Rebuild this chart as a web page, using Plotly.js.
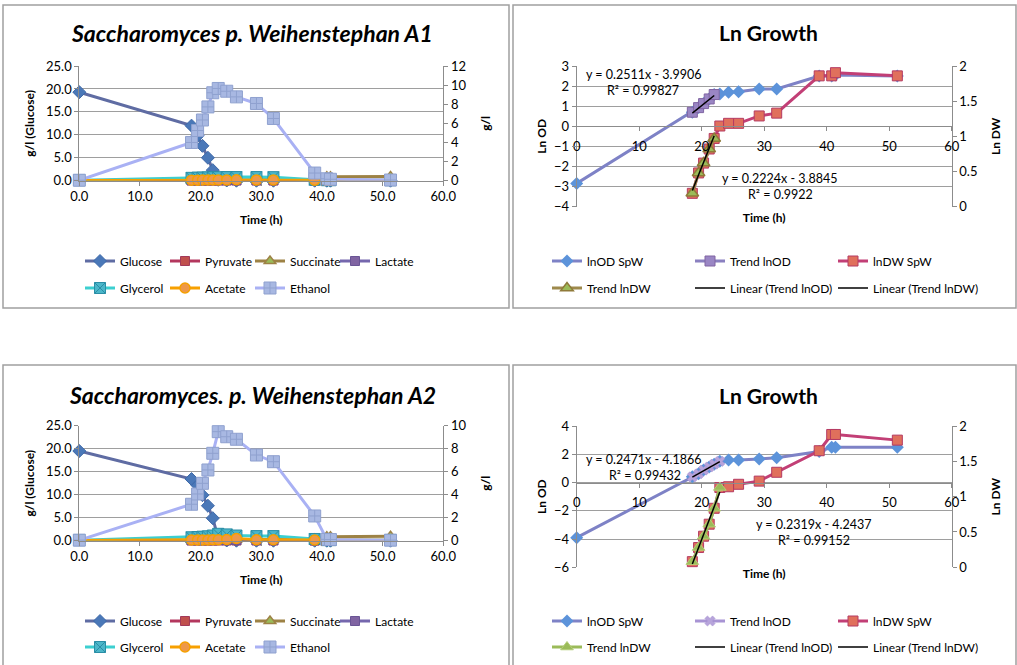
<!DOCTYPE html>
<html><head><meta charset="utf-8">
<script src="https://cdn.plot.ly/plotly-3.0.1.min.js"></script>
<style>html,body{margin:0;padding:0;background:#fff;}#chart{width:1017px;height:665px;}</style>
</head><body><div id="chart"></div>
<script>
// ---------- DATA : experiment A1 ----------
const timeA1      = [0, 18.5, 19.5, 20.3, 21.2, 22.0, 22.9, 24.3, 25.9, 29.2, 32.0, 38.8, 40.8, 41.4, 51.3];
const glucoseA1   = [19.3, 12.0, 9.8, 7.6, 5.0, 2.3, 0.2, 0.05, 0, 0, 0, 0, 0, 0, 0];
const pyruvateA1  = [0, 0.02, 0.02, 0.02, 0.02, 0.02, 0.02, 0.02, 0.02, 0.02, 0.02, 0.01, 0.01, 0.01, 0.01];
const succinateA1 = [0, 0.06, 0.06, 0.07, 0.07, 0.08, 0.08, 0.08, 0.09, 0.09, 0.1, 0.15, 0.42, 0.42, 0.45];
const lactateA1   = [0, 0.04, 0.04, 0.04, 0.04, 0.05, 0.05, 0.05, 0.05, 0.05, 0.05, 0.03, 0.02, 0.02, 0.02];
const glycerolA1  = [0.05, 0.3, 0.32, 0.33, 0.35, 0.36, 0.37, 0.38, 0.38, 0.38, 0.37, 0.1, 0.05, 0.05, 0.05];
const acetateA1   = [0.02, 0.06, 0.06, 0.07, 0.07, 0.08, 0.08, 0.08, 0.1, 0.08, 0.08, 0.05, 0.04, 0.04, 0.04];
const ethanolA1   = [0.05, 4.0, 5.25, 6.35, 7.72, 9.2, 9.65, 9.36, 8.77, 8.08, 6.51, 0.8, 0.2, 0.15, 0.07];

const lnODA1      = [-2.84, 0.70, 0.93, 1.13, 1.36, 1.58, 1.61, 1.69, 1.72, 1.86, 1.86, 2.50, 2.50, 2.55, 2.50];
const trendTimeA1 = [18.5, 19.5, 20.3, 21.2, 22.0];
const trendODA1   = [0.70, 0.93, 1.13, 1.36, 1.58];
const dwTimeA1    = [18.5, 19.5, 20.3, 21.2, 22.0, 22.9, 24.3, 25.9, 29.2, 32.0, 38.8, 40.8, 41.4, 51.3];
const lnDWA1      = [0.19, 0.48, 0.62, 0.82, 0.97, 1.147, 1.185, 1.185, 1.29, 1.33, 1.86, 1.86, 1.905, 1.86];
const trendDWA1   = [0.19, 0.48, 0.62, 0.82, 0.97];
const fitODA1     = [0.2511, -3.9906];   // slope, intercept
const fitDWA1     = [0.2224, -3.8845];
const fitRangeA1  = [18.5, 22.0];
const eqODA1 = ['y = 0.2511x - 3.9906', 'R² = 0.99827'];
const eqDWA1 = ['y = 0.2224x - 3.8845', 'R² = 0.9922'];

// ---------- DATA : experiment A2 ----------
const timeA2      = [0, 18.5, 19.5, 20.3, 21.2, 22.0, 22.9, 24.3, 25.9, 29.2, 32.0, 38.8, 40.8, 41.4, 51.3];
const glucoseA2   = [19.5, 13.4, 12.0, 9.9, 7.6, 4.9, 0.5, 0.05, 0, 0, 0, 0, 0, 0, 0];
const pyruvateA2  = [0, 0.02, 0.02, 0.02, 0.02, 0.02, 0.02, 0.02, 0.02, 0.02, 0.02, 0.01, 0.01, 0.01, 0.01];
const succinateA2 = [0, 0.06, 0.06, 0.07, 0.07, 0.08, 0.08, 0.08, 0.09, 0.09, 0.1, 0.15, 0.35, 0.35, 0.38];
const lactateA2   = [0, 0.04, 0.04, 0.04, 0.04, 0.05, 0.05, 0.05, 0.05, 0.05, 0.05, 0.03, 0.02, 0.02, 0.02];
const glycerolA2  = [0.05, 0.3, 0.32, 0.35, 0.38, 0.45, 0.6, 0.55, 0.45, 0.4, 0.4, 0.15, 0.05, 0.05, 0.05];
const acetateA2   = [0.02, 0.06, 0.06, 0.07, 0.07, 0.08, 0.08, 0.1, 0.2, 0.08, 0.08, 0.06, 0.04, 0.04, 0.04];
const ethanolA2   = [0.05, 3.17, 4.06, 4.99, 6.15, 7.6, 9.48, 9.04, 8.82, 7.45, 6.87, 2.15, 0.12, 0.1, 0.05];

const lnODA2      = [-3.9, 0.40, 0.62, 0.88, 1.10, 1.30, 1.50, 1.60, 1.60, 1.67, 1.76, 2.2, 2.49, 2.49, 2.49];
const trendTimeA2 = [18.5, 19.5, 20.3, 21.2, 22.0, 22.9];
const trendODA2   = [0.40, 0.62, 0.88, 1.10, 1.30, 1.50];
const dwTimeA2    = [18.5, 19.5, 20.3, 21.2, 22.0, 22.9, 24.3, 25.9, 29.2, 32.0, 38.8, 40.8, 41.4, 51.3];
const lnDWA2      = [0.08, 0.28, 0.44, 0.61, 0.835, 1.13, 1.14, 1.175, 1.22, 1.345, 1.65, 1.88, 1.88, 1.80];
const trendDWA2   = [0.08, 0.28, 0.44, 0.61, 0.835, 1.13];
const fitODA2     = [0.2471, -4.1866];
const fitDWA2     = [0.2319, -4.2437];
const fitRangeA2  = [18.5, 22.9];
const eqODA2 = ['y = 0.2471x - 4.1866', 'R² = 0.99432'];
const eqDWA2 = ['y = 0.2319x - 4.2437', 'R² = 0.99152'];

const titles = ['Saccharomyces p. Weihenstephan A1', 'Ln Growth', 'Saccharomyces. p. Weihenstephan A2', 'Ln Growth'];

// ---------- helpers ----------
const W = 1017, H = 665;
const FONT = 'Lato, "Open Sans", sans-serif';
const gridC = '#9E9E9E', axC = '#8C8C8C';
const X = p => p / W, Y = p => 1 - p / H;
const dX = (a, b) => [a / W, b / W];
const dY = (t, b) => [1 - b / H, 1 - t / H];
const fitLine = (fit, rng) => rng.map(x => fit[0] * x + fit[1]);

function tr(name, x, y, xa, ya, leg, lineColor, marker, mode) {
  return {type: 'scatter', mode: mode || 'lines+markers', name, x, y, xaxis: xa, yaxis: ya,
    legend: leg, line: {color: lineColor, width: 3}, marker, cliponaxis: false};
}
const mk = (symbol, size, color, lc, lw) => ({symbol, size, color, line: {color: lc, width: lw === undefined ? 1 : lw}});

function metabTraces(xa, ya, ya2, l1, l2, t, g, pyr, suc, lac, gly, ace, eth) {
  return [
    tr('Glucose', t, g, xa, ya, l1, '#5F6CA3', mk('diamond', 10, '#4A78B8', '#3D68A8')),
    tr('Pyruvate', t, pyr, xa, ya2, l1, '#B4375E', mk('square', 9, '#C0504D', '#A33A5A')),
    tr('Succinate', t, suc, xa, ya2, l1, '#9D8245', mk('triangle-up', 10, '#9BBB59', '#9D8245', 1.5)),
    tr('Lactate', t, lac, xa, ya2, l1, '#7567AD', mk('square', 9, '#8064A2', '#6A5595')),
    tr('Glycerol', t, gly, xa, ya2, l2, '#3CCFD0', mk('square-x', 11, '#4BB6C9', '#2A8EA6')),
    tr('Acetate', t, ace, xa, ya2, l2, '#F7A000', mk('circle', 10, '#EE9848', '#F5A000', 1.5)),
    tr('Ethanol', t, eth, xa, ya2, l2, '#A9B1F4', mk('square-cross', 12, '#A8B8E2', '#8FA1CF'))
  ];
}
function growthTraces(xa, ya, ya2, l1, l2, t, od, tt, tod, dwt, dw, tdw, fod, fdw, rng, second) {
  return [
    tr('lnOD SpW', t, od, xa, ya, l1, '#7E82C6', mk('diamond', 10, '#5C93DA', '#5C93DA', 0)),
    second ? tr('Trend lnOD', tt, tod, xa, ya, l1, '#A894D4', mk('x', 9, '#B7A4DB', '#9E89CC', 0.5))
           : tr('Trend lnOD', tt, tod, xa, ya, l1, '#8A80C0', mk('square', 10, '#9A86C4', '#8064A2')),
    tr('lnDW SpW', dwt, dw, xa, ya2, l1, '#C23F76', mk('square', 10, '#E0705C', '#B53A62')),
    second ? tr('Trend lnDW', tt, tdw, xa, ya2, l2, '#9BBB59', mk('triangle-up', 11, '#9BBB59', '#B5CE78', 1))
           : tr('Trend lnDW', tt, tdw, xa, ya2, l2, '#9E8A4C', mk('triangle-up', 11, '#9BBB59', '#8F7A3A', 1.5)),
    {type: 'scatter', mode: 'lines', name: 'Linear (Trend lnOD)', x: rng, y: fitLine(fod, rng), xaxis: xa, yaxis: ya,
      legend: l2, line: {color: '#000', width: 1.5}},
    {type: 'scatter', mode: 'lines', name: 'Linear (Trend lnDW)', x: rng, y: fitLine(fdw, rng), xaxis: xa, yaxis: ya2,
      legend: l2, legendwidth: 130, line: {color: '#000', width: 1.5}}
  ];
}

const data = [].concat(
  metabTraces('x', 'y', 'y2', 'legend', 'legend2', timeA1, glucoseA1, pyruvateA1, succinateA1, lactateA1, glycerolA1, acetateA1, ethanolA1),
  growthTraces('x2', 'y3', 'y4', 'legend3', 'legend4', timeA1, lnODA1, trendTimeA1, trendODA1, dwTimeA1, lnDWA1, trendDWA1, fitODA1, fitDWA1, fitRangeA1, false),
  metabTraces('x3', 'y5', 'y6', 'legend5', 'legend6', timeA2, glucoseA2, pyruvateA2, succinateA2, lactateA2, glycerolA2, acetateA2, ethanolA2),
  growthTraces('x4', 'y7', 'y8', 'legend7', 'legend8', timeA2, lnODA2, trendTimeA2, trendODA2, dwTimeA2, lnDWA2, trendDWA2, fitODA2, fitDWA2, fitRangeA2, true)
);

// ---------- axes ----------
const tickF = {family: FONT, size: 13, color: '#000'};
const titF = {family: FONT, size: 12, color: '#000', weight: 'bold'};
function xAxis(dom, extra) {
  return Object.assign({domain: dom, range: [0, 60], dtick: 10, showgrid: false, zeroline: false,
    showline: true, linecolor: axC, linewidth: 1, ticks: 'outside', ticklen: 4, tickcolor: axC,
    tickfont: tickF, fixedrange: true}, extra);
}
function yAxis(dom, anchor, range, dtick, title, standoff, extra) {
  return Object.assign({domain: dom, anchor, range, dtick, showgrid: true, gridcolor: gridC, gridwidth: 1,
    zeroline: false, showline: true, linecolor: axC, ticks: 'outside', ticklen: 4, tickcolor: axC,
    tickfont: tickF, title: {text: title, font: titF, standoff}}, extra);
}
function yAxisR(over, anchor, range, dtick, title, standoff) {
  return {overlaying: over, side: 'right', anchor, range, dtick, showgrid: false, zeroline: false,
    showline: true, linecolor: axC, ticks: 'outside', ticklen: 4, tickcolor: axC, tickfont: tickF,
    title: {text: title, font: titF, standoff}};
}

const xL = [79.3, 443.3], xR = [576.7, 951.7];
// y position of value 0 on the growth axes
const zeroTop = 66 + 3 * (140.7 / 7);
const zeroBot = 426 + 4 * (141.3 / 10);

const layout = {
  width: W, height: H, margin: {l: 0, r: 0, t: 0, b: 0}, paper_bgcolor: '#fff', plot_bgcolor: 'rgba(0,0,0,0)',
  font: {family: FONT, color: '#000'},
  xaxis: xAxis(dX(...xL), {anchor: 'y', tickformat: '.1f', title: {text: 'Time (h)', font: titF, standoff: 12}}),
  yaxis: yAxis(dY(66, 180.7), 'x', [0, 25], 5, 'g/l (Glucose)', 8, {tickformat: '.1f'}),
  yaxis2: yAxisR('y', 'x', [0, 12], 2, 'g/l', 16),
  xaxis2: xAxis(dX(...xR), {anchor: 'free', position: Y(zeroTop), ticklabelstandoff: 4,
    title: {text: 'Time (h)', font: titF, standoff: 60}}),
  yaxis3: yAxis(dY(66, 206.7), 'x2', [-4, 3], 1, 'Ln OD', 4),
  yaxis4: yAxisR('y3', 'x2', [0, 2], 0.5, 'Ln DW', 15),
  xaxis3: xAxis(dX(...xL), {anchor: 'y5', tickformat: '.1f', title: {text: 'Time (h)', font: titF, standoff: 12}}),
  yaxis5: yAxis(dY(425.7, 540.7), 'x3', [0, 25], 5, 'g/l (Glucose)', 8, {tickformat: '.1f'}),
  yaxis6: yAxisR('y5', 'x3', [0, 10], 2, 'g/l', 16),
  xaxis4: xAxis(dX(...xR), {anchor: 'free', position: Y(zeroBot), ticklabelstandoff: 4,
    title: {text: 'Time (h)', font: titF, standoff: 60}}),
  yaxis7: yAxis(dY(426, 567.3), 'x4', [-6, 4], 2, 'Ln OD', 4),
  yaxis8: yAxisR('y7', 'x4', [0, 2], 0.5, 'Ln DW', 15),
  shapes: [
    [3, 5, 509, 308], [513, 5, 1016, 308], [3, 365, 509, 700], [513, 365, 1016, 700]
  ].map(r => ({type: 'rect', xref: 'paper', yref: 'paper', x0: X(r[0]), y0: Y(r[1]), x1: X(r[2]), y1: Y(r[3]),
    line: {color: '#A0A0A0', width: 1.5}, fillcolor: 'rgba(0,0,0,0)', layer: 'below'})),
  annotations: []
};

// panel titles
[[252, 33, titles[0], true], [768, 33, titles[1], false], [252, 395, titles[2], true], [768, 395, titles[3], false]]
  .forEach(a => layout.annotations.push({xref: 'paper', yref: 'paper', x: X(a[0]), y: Y(a[1]), xanchor: 'center',
    yanchor: 'middle', showarrow: false, text: a[3] ? '<i>' + a[2] + '</i>' : a[2],
    font: {family: FONT, size: a[3] ? 23 : 21, color: '#000', weight: 'bold'}}));
// trendline equations
[[643, 75, eqODA1[0]], [643, 91, eqODA1[1]], [779, 178, eqDWA1[0]], [780, 194, eqDWA1[1]],
 [643, 459, eqODA2[0]], [645, 475, eqODA2[1]], [813, 524, eqDWA2[0]], [814, 540, eqDWA2[1]]]
  .forEach(a => layout.annotations.push({xref: 'paper', yref: 'paper', x: X(a[0]), y: Y(a[1]), xanchor: 'center',
    yanchor: 'middle', showarrow: false, text: a[2], font: {family: FONT, size: 12.5, color: '#000'}}));

// legends (two rows per panel)
function leg(xp, yp, w) {
  return {x: X(xp), y: Y(yp), xanchor: 'left', yanchor: 'middle', orientation: 'h', entrywidth: w,
    entrywidthmode: 'pixels', bgcolor: 'rgba(0,0,0,0)', borderwidth: 0, font: {family: FONT, size: 12, color: '#000'},
    tracegroupgap: 0, traceorder: 'normal'};
}
layout.legend  = leg(80, 261, 40);
layout.legend2 = leg(80, 288, 40);
layout.legend3 = leg(547, 261, 98);
layout.legend4 = leg(547, 288, 98);
layout.legend5 = leg(80, 621, 40);
layout.legend6 = leg(80, 647, 40);
layout.legend7 = leg(547, 621, 98);
layout.legend8 = leg(547, 647, 98);

Plotly.newPlot('chart', data, layout, {displayModeBar: false, staticPlot: true});
</script></body></html>
